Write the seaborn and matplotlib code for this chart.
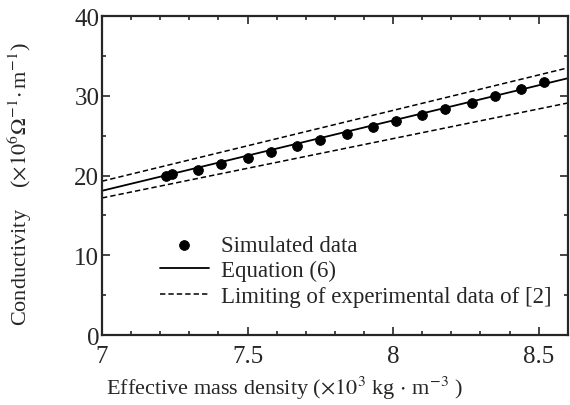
import matplotlib
matplotlib.use("Agg")
import matplotlib.pyplot as plt
from matplotlib.ticker import MultipleLocator, FuncFormatter
import pandas as pd
import seaborn as sns

# simulated points
sim_density = [7.22, 7.24, 7.33, 7.41, 7.50, 7.58, 7.67, 7.75, 7.84,
               7.93, 8.01, 8.10, 8.18, 8.27, 8.35, 8.44, 8.52]
sim_cond = [20.0, 20.2, 20.75, 21.5, 22.2, 22.95, 23.75, 24.45, 25.25,
            26.1, 26.85, 27.6, 28.35, 29.15, 29.95, 30.9, 31.7]

# equation (6) and the limits of the experimental data
line_density = [7.0, 8.6]
eq6_cond = [18.1, 32.2]
upper_cond = [19.3, 33.5]
lower_cond = [17.2, 29.1]

sns.set_style("ticks")
plt.rcParams['font.family'] = ['Liberation Serif', 'DejaVu Serif']
plt.rcParams['mathtext.fontset'] = 'stix'

fig, ax = plt.subplots(figsize=(5.7, 4.06), dpi=100)
fig.subplots_adjust(left=0.179, right=0.996, top=0.958, bottom=0.172)

sim = pd.DataFrame({'x': sim_density, 'y': sim_cond})
lines = pd.DataFrame({'x': line_density, 'eq': eq6_cond,
                      'up': upper_cond, 'lo': lower_cond})

sns.scatterplot(data=sim, x='x', y='y', ax=ax, color='black', s=50,
                edgecolor='black', zorder=3, label='Simulated data')
sns.lineplot(data=lines, x='x', y='eq', ax=ax, color='black', lw=1.3,
             label='Equation (6)')
sns.lineplot(data=lines, x='x', y='up', ax=ax, color='black', lw=1.1,
             label='Limiting of experimental data of [2]')
ax.lines[-1].set_dashes((3.5, 2))
sns.lineplot(data=lines, x='x', y='lo', ax=ax, color='black', lw=1.1)
ax.lines[-1].set_dashes((3.5, 2))

ax.set_xlim(7, 8.6)
ax.set_ylim(0, 40)
ax.xaxis.set_major_locator(MultipleLocator(0.5))
ax.xaxis.set_minor_locator(MultipleLocator(0.1))
ax.yaxis.set_major_locator(MultipleLocator(10))
ax.yaxis.set_minor_locator(MultipleLocator(5))
ax.xaxis.set_major_formatter(FuncFormatter(lambda v, p: f"{v:g}"))
ax.tick_params(which='both', direction='in', top=True, right=True,
               labelsize=18, width=1.2)
ax.tick_params(which='major', length=6)
ax.tick_params(which='minor', length=3)
ax.tick_params(axis='x', pad=7)
ax.tick_params(axis='y', pad=2)
for sp in ax.spines.values():
    sp.set_linewidth(1.6)

ax.set_xlabel(r'Effective mass density ($\times10^3$ kg$\,\cdot\,$m$^{-3}$ )', fontsize=16)
ax.xaxis.set_label_coords(0.392, -0.12)
ax.set_ylabel(r'Conductivity    ($\times10^6\Omega^{-1}\!\cdot$m$^{-1}$)', fontsize=16)
ax.yaxis.set_label_coords(-0.147, 0.475)

leg = ax.legend(loc='upper left', bbox_to_anchor=(0.124, 0.315), frameon=False,
                fontsize=16.5, handlelength=2.15, handletextpad=0.5,
                labelspacing=0.19, borderaxespad=0, borderpad=0)

fig.savefig('out.png', dpi=100)
